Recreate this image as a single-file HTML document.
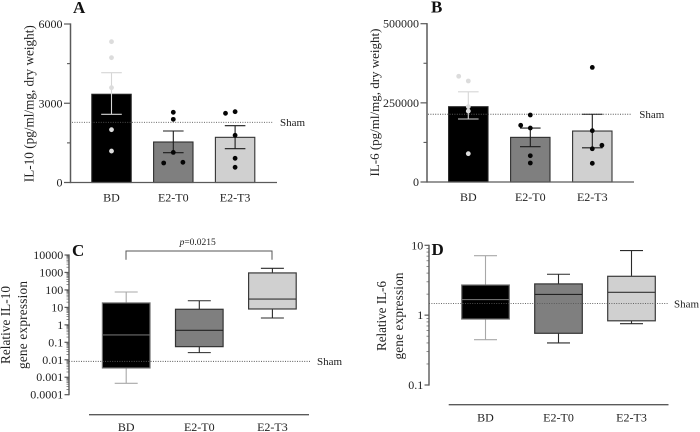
<!DOCTYPE html>
<html lang="en">
<head>
<meta charset="utf-8">
<title>IL-10 and IL-6 protein and gene expression</title>
<style>
html,body{margin:0;padding:0;background:#fff;}
svg{display:block;font-family:"Liberation Serif",serif;filter:blur(0.35px);}
text{fill:#222;}
</style>
</head>
<body>
<svg id="figure" width="700" height="432" viewBox="0 0 700 432" xmlns="http://www.w3.org/2000/svg">
  <text x="73" y="13" font-size="17" font-weight="bold" style="fill:#111">A</text>
  <text x="431" y="12.5" font-size="17" font-weight="bold" style="fill:#111">B</text>
  <text x="72" y="256" font-size="17" font-weight="bold" style="fill:#111">C</text>
  <text x="431.5" y="255" font-size="17" font-weight="bold" style="fill:#111">D</text>

  <text transform="translate(33.5,103.7) rotate(-90)" text-anchor="middle" font-size="13.2" textLength="157">IL-10 (pg/ml/mg, dry weight)</text>
  <text transform="translate(379,102.5) rotate(-90)" text-anchor="middle" font-size="13" textLength="148">IL-6 (pg/ml/mg, dry weight)</text>
  <g>
    <text transform="translate(10,325) rotate(-90)" text-anchor="middle" font-size="13.2" textLength="78">Relative IL-10</text>
    <text transform="translate(27,325) rotate(-90)" text-anchor="middle" font-size="13.2" textLength="88">gene expression</text>
  </g>
  <g>
    <text transform="translate(386,316) rotate(-90)" text-anchor="middle" font-size="13.2" textLength="70">Relative IL-6</text>
    <text transform="translate(403,316) rotate(-90)" text-anchor="middle" font-size="13.2" textLength="87">gene expression</text>
  </g>

  <g>
    <path d="M126 259.7V251H272V259.7" fill="none" stroke="#555" stroke-width="1"/>
    <text x="197.7" y="245" text-anchor="middle" font-size="9.5"><tspan font-style="italic">p</tspan>=0.0215</text>
  </g>
</svg>
<script>
// Shared categories
const categories = ['BD', 'E2-T0', 'E2-T3'];

// Panel A: IL-10 protein
const aMeans = [3340, 1533, 1710];
const aUpper = [4157, 1950, 2150];
const aLower = [2580, 1130, 1280];
const aPoints = [
  [5330, 4725, 3590, 2000, 1190],
  [2657, 2390, 1140, 738, 765],
  [2620, 2680, 1787, 916, 575]
];
const aJitter = [
  [0, 0, 0, 0, 0],
  [0, 0, 0, -1, 1],
  [-1, 0, 0, 0, 0]
];
const aTicks = [0, 3000, 6000];
const aMinorTicks = [1500, 4500];
const aSham = 2280;

// Panel B: IL-6 protein
const bMeans = [237800, 141000, 161000];
const bUpper = [285000, 170500, 214000];
const bLower = [199000, 111500, 108000];
const bPoints = [
  [334000, 319000, 238000, 224000, 89500],
  [211600, 179000, 170500, 83000, 60000],
  [362000, 162000, 116000, 105000, 59000]
];
const bJitter = [
  [-1, 0, 0, 0, 0],
  [0, -1, 0, 0, 0],
  [0, 0, 1, 0, 0]
];
const bTicks = [0, 250000, 500000];
const bMinorTicks = [125000, 375000];
const bSham = 214000;

// Panel C: IL-10 gene expression (low whisker, q1, median, q3, high whisker)
const cBoxes = [
  [0.00045, 0.0034, 0.263, 18, 76],
  [0.0257, 0.0565, 0.486, 7.8, 24],
  [2.47, 8.1, 30, 940, 1730]
];
const cTicks = ['0.0001', '0.001', '0.01', '0.1', '1', '10', '100', '1000', '10000'];
const cSham = 0.0081;

// Panel D: IL-6 gene expression
const dBoxes = [
  [0.445, 0.88, 1.67, 2.7, 7.1],
  [0.40, 0.55, 1.98, 2.8, 3.85],
  [0.755, 0.83, 2.12, 3.6, 8.4]
];
const dTicks = ['0.1', '1', '10'];
const dSham = 1.47;

const svg = document.getElementById('figure');
const NS = 'http://www.w3.org/2000/svg';
const AXIS = '#5a5a5a';
const FILLS = ['#000000', '#7f7f7f', '#d0d0d0'];
const BAR_STROKES = ['#222', '#2e2e2e', '#333'];
const slug = ['bd', 'e2-t0', 'e2-t3'];

function draw(tag, name, attrs, text) {
  const el = document.createElementNS(NS, tag);
  
  
  for (const k in attrs) el.setAttribute(k, attrs[k]);
  if (text !== undefined) el.textContent = text;
  svg.appendChild(el);
  return el;
}
function line(name, x1, y1, x2, y2, stroke, w, extra) {
  return draw('line', name, Object.assign({x1, y1, x2, y2, stroke, 'stroke-width': w}, extra || {}));
}
function label(name, x, y, str, size, anchor) {
  return draw('text', name, {x, y, 'font-size': size, 'text-anchor': anchor || 'middle'}, str);
}
function sham(p, y) {
  line(p.id + '-sham-line', p.shamX1, y, p.shamX2, y, '#555', 0.9, {'stroke-dasharray': '1 1.4'});
  label(p.id + '-sham-label', p.shamLabelX, y + 3.8 + (p.shamLabelDy || 0), 'Sham', 11, 'start');
}

function barPanel(p) {
  const y = v => p.y0 - v / p.max * (p.y0 - p.yTop);
  const cx = i => p.cx0 + p.step * i;
  p.means.forEach((m, i) => {
    draw('rect', p.id + '-bar-' + slug[i], {
      x: cx(i) - 19.7, y: y(m), width: 39.4, height: p.y0 - y(m),
      fill: FILLS[i], stroke: BAR_STROKES[i], 'stroke-width': 1.1
    });
  });
  sham(p, y(p.sham));
  p.means.forEach((m, i) => {
    const c = i === 0 ? '#d6d6d6' : '#1c1c1c';
    line(p.id + '-error-stem-' + slug[i], cx(i), y(p.upper[i]), cx(i), y(p.lower[i]), c, 1.1);
    line(p.id + '-error-cap-upper-' + slug[i], cx(i) - 10.3, y(p.upper[i]), cx(i) + 10.3, y(p.upper[i]), c, 1.1);
    line(p.id + '-error-cap-lower-' + slug[i], cx(i) - 10.3, y(p.lower[i]), cx(i) + 10.3, y(p.lower[i]), c, 1.1);
    p.points[i].forEach((v, j) => {
      draw('circle', p.id + '-point-' + slug[i] + '-' + (j + 1), {
        cx: cx(i) + p.jitter[i][j] * 9.6, cy: y(v), r: 2.4,
        fill: i === 0 ? '#dcdcdc' : '#050505'
      });
    });
    label(p.id + '-x-label-' + slug[i], cx(i), p.catY, categories[i], 12);
  });
  line(p.id + '-y-axis', p.xAxis, p.yTop - 0.6, p.xAxis, p.y0 + 0.6, AXIS, 1.5);
  line(p.id + '-x-axis', p.xAxis - 6.5, p.y0, p.xEnd, p.y0, AXIS, 1.3);
  p.ticks.forEach(t => {
    if (t !== 0) line(p.id + '-y-tick-' + t, p.xAxis - 6.5, y(t), p.xAxis, y(t), AXIS, 1.2);
    label(p.id + '-y-tick-label-' + t, p.xAxis - 8, y(t) + 4, String(t), 12, 'end');
  });
  p.minor.forEach(t => line(p.id + '-y-minor-tick-' + t, p.xAxis - 3.5, y(t), p.xAxis, y(t), AXIS, 1.1));
}

function boxPanel(p) {
  const decades = Math.log10(p.max) - Math.log10(p.min);
  const y = v => p.yBot - (Math.log10(v) - Math.log10(p.min)) / decades * (p.yBot - p.yTop);
  const cx = i => p.cx0 + p.step * i;
  const STROKES = ['#6e6e6e', '#333', '#3a3a3a'];
  const WHISK = ['#a8a8a8', '#2a2a2a', '#2a2a2a'];
  const MED = ['#6e6e6e', '#222', '#333'];
  p.boxes.forEach((b, i) => {
    const [lo, q1, med, q3, hi] = b;
    line(p.id + '-whisker-stem-' + slug[i], cx(i), y(hi), cx(i), y(lo), WHISK[i], 1.1);
    line(p.id + '-whisker-cap-high-' + slug[i], cx(i) - 11.5, y(hi), cx(i) + 11.5, y(hi), WHISK[i], 1.1);
    line(p.id + '-whisker-cap-low-' + slug[i], cx(i) - 11.5, y(lo), cx(i) + 11.5, y(lo), WHISK[i], 1.1);
    draw('rect', p.id + '-box-' + slug[i], {
      x: cx(i) - 23.8, y: y(q3), width: 47.6, height: y(q1) - y(q3),
      fill: FILLS[i], stroke: STROKES[i], 'stroke-width': 1.2
    });
    line(p.id + '-median-' + slug[i], cx(i) - 23.8, y(med), cx(i) + 23.8, y(med), MED[i], 1.1);
    label(p.id + '-x-label-' + slug[i], cx(i) + p.labelDx, p.catY, categories[i], 12);
  });
  sham(p, y(p.sham));
  line(p.id + '-y-axis', p.xAxis, p.yTop - 0.6, p.xAxis, p.yBot + 0.6, AXIS, 1.4);
  line(p.id + '-category-rule', p.ruleX1, p.ruleY, p.ruleX2, p.ruleY, AXIS, 1.3);
  p.ticks.forEach((t, k) => {
    const v = parseFloat(t);
    line(p.id + '-y-tick-' + t, p.xAxis - 4.5, y(v), p.xAxis, y(v), AXIS, 1.2);
    label(p.id + '-y-tick-label-' + t, p.xAxis - 5.8, y(v) + 4, t, 12, 'end');
    if (k < p.ticks.length - 1) {
      for (let m = 2; m < 10; m++) {
        line(p.id + '-y-minor-tick-' + t + '-' + m, p.xAxis - 2.5, y(v * m), p.xAxis, y(v * m), AXIS, 0.7);
      }
    }
  });
}

barPanel({
  id: 'panel-a', means: aMeans, upper: aUpper, lower: aLower, points: aPoints, jitter: aJitter,
  ticks: aTicks, minor: aMinorTicks, sham: aSham, max: 6000,
  xAxis: 70.5, xEnd: 277, y0: 182.5, yTop: 24, cx0: 111.5, step: 61.8, catY: 201.5,
  shamX1: 72, shamX2: 273, shamLabelX: 280
});
barPanel({
  id: 'panel-b', means: bMeans, upper: bUpper, lower: bLower, points: bPoints, jitter: bJitter,
  ticks: bTicks, minor: bMinorTicks, sham: bSham, max: 500000,
  xAxis: 427, xEnd: 634, y0: 182, yTop: 23.7, cx0: 468.3, step: 62, catY: 201,
  shamX1: 428, shamX2: 632, shamLabelX: 639.3
});
boxPanel({
  id: 'panel-c', boxes: cBoxes, ticks: cTicks, sham: cSham, min: 0.0001, max: 10000,
  xAxis: 69, yTop: 255, yBot: 394.7, cx0: 126.2, step: 73.1, catY: 431, labelDx: 0,
  ruleX1: 89, ruleX2: 309, ruleY: 414.7,
  shamX1: 69, shamX2: 310, shamLabelX: 317
});
boxPanel({
  id: 'panel-d', boxes: dBoxes, ticks: dTicks, sham: dSham, min: 0.1, max: 10,
  xAxis: 429, yTop: 245.3, yBot: 385, cx0: 485.5, step: 73, catY: 421.7, labelDx: 0,
  ruleX1: 448.7, ruleX2: 668.5, ruleY: 404.7,
  shamX1: 429, shamX2: 668, shamLabelX: 674
});
</script>
</body>
</html>
